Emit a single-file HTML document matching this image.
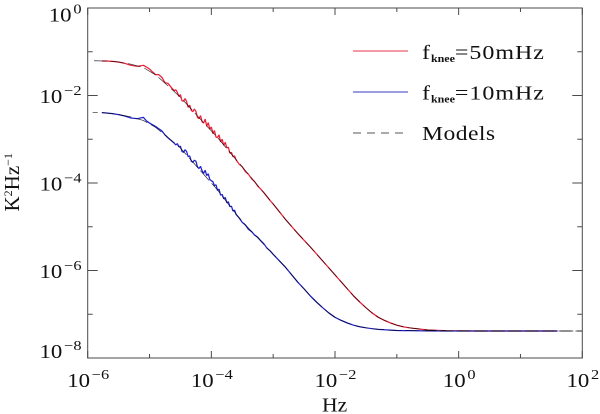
<!DOCTYPE html>
<html>
<head>
<meta charset="utf-8">
<title>Noise power spectra</title>
<style>
html,body{margin:0;padding:0;background:#fff;}
svg{display:block;}
text{font-family:"Liberation Serif",serif;fill:#111;}
</style>
</head>
<body>
<svg id="chart" xmlns="http://www.w3.org/2000/svg" width="600" height="414" viewBox="0 0 600 414">
  <rect x="0" y="0" width="600" height="414" fill="#fff"/>
  <g id="series" fill="none"></g>
  <g id="axes"></g>
  <text transform="translate(322,411.5) scale(1.08,1)" font-size="20">Hz</text>
  <text transform="translate(19,211.5) rotate(-90)" font-size="21">K<tspan font-size="12" dy="-7">2</tspan><tspan dy="7">Hz</tspan><tspan font-size="12" dy="-7">−1</tspan></text>
  <g>
    <line x1="353" x2="408" y1="51" y2="51" stroke="#e8364a" stroke-width="1"/>
    <text transform="translate(422,59) scale(1.2,1)" font-size="20" letter-spacing="0.8">f<tspan font-size="10" font-weight="bold" dy="3" letter-spacing="0">knee</tspan><tspan dy="-3">=50mHz</tspan></text>
    <line x1="353" x2="408" y1="92" y2="92" stroke="#3a3ac0" stroke-width="1"/>
    <text transform="translate(422,99.5) scale(1.2,1)" font-size="20" letter-spacing="0.8">f<tspan font-size="10" font-weight="bold" dy="3" letter-spacing="0">knee</tspan><tspan dy="-3">=10mHz</tspan></text>
    <line x1="353" x2="408" y1="133" y2="133" stroke="#555" stroke-width="1" stroke-dasharray="8 6"/>
    <text transform="translate(422,140) scale(1.18,1)" font-size="20" letter-spacing="0.4">Models</text>
  </g>
</svg>
<script>
// Data: log10(Hz) and log10(K^2/Hz)
var freqLog = [-5.77,-5.7,-5.6,-5.5,-5.4,-5.3,-5.2,-5.1,-5.05,-5,-4.95,-4.9,-4.85,-4.8,-4.75,-4.7,-4.65,
  -4.6,-4.575,-4.55,-4.525,-4.5,-4.475,-4.45,-4.425,-4.4,-4.375,-4.35,-4.325,-4.3,-4.275,-4.25,-4.225,-4.2,-4.175,-4.15,-4.125,-4.1,-4.075,-4.05,-4.025,-4,-3.975,-3.95,-3.925,-3.9,-3.875,-3.85,-3.825,-3.8,-3.775,-3.75,-3.725,-3.7,-3.675,-3.65,-3.625,-3.6,
  -3.55,-3.5,-3.45,-3.4,-3.35,-3.3,-3.25,-3.2,-3.15,-3.1,-3.05,-3,
  -2.8,-2.6,-2.5,-2.4,-2.3,-2.2,-2.1,-2,-1.9,-1.8,-1.7,-1.6,-1.5,-1.4,-1.3,-1.2,-1.1,-1,-0.9,-0.8,-0.5,-0.2,0.3,1,1.6];
var redLog = [-1.211,-1.211,-1.219,-1.234,-1.265,-1.31,-1.333,-1.31,-1.349,-1.394,-1.463,-1.524,-1.524,-1.585,-1.707,-1.722,-1.813,
  -1.89,-1.87,-1.93,-2.02,-1.98,-2.12,-2.13,-2.07,-2.14,-2.27,-2.22,-2.34,-2.37,-2.31,-2.36,-2.5,-2.53,-2.46,-2.6,-2.63,-2.54,-2.7,-2.62,-2.77,-2.72,-2.87,-2.8,-2.95,-2.96,-2.9,-3.06,-3,-3.14,-3.07,-3.2,-3.18,-3.32,-3.3,-3.4,-3.38,-3.47,
  -3.57,-3.63,-3.74,-3.8,-3.9,-3.97,-4.07,-4.14,-4.22,-4.31,-4.4,-4.48,
  -4.834,-5.157,-5.31,-5.46,-5.62,-5.78,-5.94,-6.1,-6.26,-6.42,-6.58,-6.72,-6.85,-6.97,-7.07,-7.14,-7.2,-7.25,-7.285,-7.31,-7.36,-7.376,-7.383,-7.383,-7.383];
var blueLog = [-2.392,-2.4,-2.415,-2.438,-2.469,-2.514,-2.53,-2.499,-2.58,-2.63,-2.67,-2.71,-2.76,-2.81,-2.9,-2.97,-3.03,
  -3.09,-3.13,-3.1,-3.17,-3.16,-3.28,-3.3,-3.24,-3.28,-3.4,-3.38,-3.5,-3.53,-3.48,-3.5,-3.63,-3.67,-3.62,-3.72,-3.78,-3.71,-3.83,-3.79,-3.92,-3.95,-3.97,-4.06,-4.04,-4.17,-4.14,-4.28,-4.26,-4.36,-4.33,-4.45,-4.43,-4.54,-4.53,-4.64,-4.62,-4.72,
  -4.8,-4.9,-4.96,-5.06,-5.11,-5.19,-5.24,-5.32,-5.39,-5.49,-5.55,-5.63,
  -5.928,-6.27,-6.42,-6.58,-6.72,-6.85,-6.97,-7.07,-7.14,-7.2,-7.25,-7.285,-7.31,-7.33,-7.345,-7.355,-7.363,-7.37,-7.373,-7.375,-7.38,-7.383,-7.383,-7.383,-7.383];
var modelFreqLog = [-5.92,-5.7,-5.5,-5.3,-5.1,-4.9,-4.7,-4.5,-4.3,-4.1,-3.9,-3.7,-3.5,-3.3,-3.1,-3,
  -2.8,-2.6,-2.5,-2.4,-2.3,-2.2,-2.1,-2,-1.9,-1.8,-1.7,-1.6,-1.5,-1.4,-1.3,-1.2,-1.1,-1,-0.9,-0.8,-0.5,-0.2,0.3,1,2];
var modelRedLog = [-1.205,-1.212,-1.236,-1.285,-1.36,-1.53,-1.78,-2.04,-2.35,-2.66,-2.96,-3.3,-3.63,-3.97,-4.31,-4.48,
  -4.834,-5.157,-5.31,-5.46,-5.62,-5.78,-5.94,-6.1,-6.26,-6.42,-6.58,-6.72,-6.85,-6.97,-7.07,-7.14,-7.2,-7.25,-7.285,-7.31,-7.36,-7.376,-7.383,-7.383,-7.383];
var modelBlueLog = [-2.385,-2.398,-2.437,-2.49,-2.57,-2.73,-2.96,-3.2,-3.52,-3.84,-4.16,-4.53,-4.88,-5.18,-5.48,-5.63,
  -5.928,-6.27,-6.42,-6.58,-6.72,-6.85,-6.97,-7.07,-7.14,-7.2,-7.25,-7.285,-7.31,-7.33,-7.345,-7.355,-7.363,-7.37,-7.373,-7.375,-7.38,-7.383,-7.383,-7.383,-7.383];
var xMajorExponents = [-6,-4,-2,0,2];
var xMinorExponents = [-5,-3,-1,1];
var yMajorExponents = [0,-2,-4,-6,-8];
var yMinorExponents = [-1,-3,-5,-7];

var svgNS = 'http://www.w3.org/2000/svg';
var plotLeft = 87.7, plotRight = 582.3, plotTop = 8, plotBottom = 358;
function xScale(v){ return plotLeft + (v + 6) / 8 * (plotRight - plotLeft); }
function yScale(v){ return plotTop + (0 - v) / 8 * (plotBottom - plotTop); }
function make(tag, parent, attrs){
  var el = document.createElementNS(svgNS, tag);
  for (var k in attrs) el.setAttribute(k, attrs[k]);
  parent.appendChild(el);
  return el;
}
function pathFrom(xs, ys){
  var d = '';
  for (var i = 0; i < xs.length; i++){
    d += (i ? 'L' : 'M') + xScale(xs[i]).toFixed(2) + ' ' + yScale(ys[i]).toFixed(2);
  }
  return d;
}
function minusText(n){ return n < 0 ? '\u2212' + Math.abs(n) : String(n); }
// Align the dash phase so both model lines share their gaps near the right edge
function alignDashes(path){
  var period = 17;
  var len = path.getTotalLength();
  var off = ((15 - (len - 10)) % period + period) % period;
  path.setAttribute('stroke-dashoffset', (-off).toFixed(2));
}

var seriesG = document.getElementById('series');
var axesG = document.getElementById('axes');

var redPath = make('path', seriesG, {d: pathFrom(freqLog, redLog), stroke: '#ee1c34', 'stroke-width': 1.25, 'stroke-linejoin': 'bevel', fill: 'none'});


var bluePath = make('path', seriesG, {d: pathFrom(freqLog, blueLog), stroke: '#1f1fd0', 'stroke-width': 1.25, 'stroke-linejoin': 'bevel', fill: 'none'});


var modelRedPath = make('path', seriesG, {d: pathFrom(modelFreqLog, modelRedLog), stroke: '#000', 'stroke-width': 0.65, 'stroke-opacity': 0.85, 'stroke-dasharray': '13 4', fill: 'none'});


alignDashes(modelRedPath);
var modelBluePath = make('path', seriesG, {d: pathFrom(modelFreqLog, modelBlueLog), stroke: '#000', 'stroke-width': 0.65, 'stroke-opacity': 0.85, 'stroke-dasharray': '13 4', fill: 'none'});


alignDashes(modelBluePath);

var frame = make('rect', axesG, {x: plotLeft, y: plotTop, width: plotRight - plotLeft, height: plotBottom - plotTop, fill: 'none', stroke: '#4a4a4a', 'stroke-width': 1});



function xTicks(list, len, kind){
  list.forEach(function(v){
    var x = xScale(v);
    var b = make('line', axesG, {x1: x, x2: x, y1: plotBottom, y2: plotBottom - len, stroke: '#4a4a4a', 'stroke-width': 1});
    
    
    var t = make('line', axesG, {x1: x, x2: x, y1: plotTop, y2: plotTop + len, stroke: '#4a4a4a', 'stroke-width': 1});
    
    
  });
}
function yTicks(list, len, kind){
  list.forEach(function(v){
    var y = yScale(v);
    var l = make('line', axesG, {x1: plotLeft, x2: plotLeft + len, y1: y, y2: y, stroke: '#4a4a4a', 'stroke-width': 1});
    
    
    var r = make('line', axesG, {x1: plotRight, x2: plotRight - len, y1: y, y2: y, stroke: '#4a4a4a', 'stroke-width': 1});
    
    
  });
}
xTicks(xMajorExponents, 7, 'major');
xTicks(xMinorExponents, 4, 'minor');
yTicks(yMajorExponents, 10, 'major');
yTicks(yMinorExponents, 5, 'minor');

function tickLabel(x, y, anchor, exp, name){
  var t = make('text', axesG, {transform: 'translate(' + x + ',' + y + ') scale(1.17,1)', 'text-anchor': anchor, 'font-size': 19.5});
  
  
  var base = document.createElementNS(svgNS, 'tspan');
  base.textContent = '10';
  t.appendChild(base);
  var sup = document.createElementNS(svgNS, 'tspan');
  sup.setAttribute('font-size', '14');
  sup.setAttribute('dy', '-8');
  sup.setAttribute('dx', '1.5');
  sup.textContent = minusText(exp);
  t.appendChild(sup);
}
xMajorExponents.forEach(function(v){
  tickLabel(xScale(v) + 0.5, 387, 'middle', v, 'x-tick-label');
});
yMajorExponents.forEach(function(v){
  var y = Math.min(Math.max(yScale(v) + 7.5, 21.7), 358);
  tickLabel(81.5, y, 'end', v, 'y-tick-label');
});
</script>
</body>
</html>
